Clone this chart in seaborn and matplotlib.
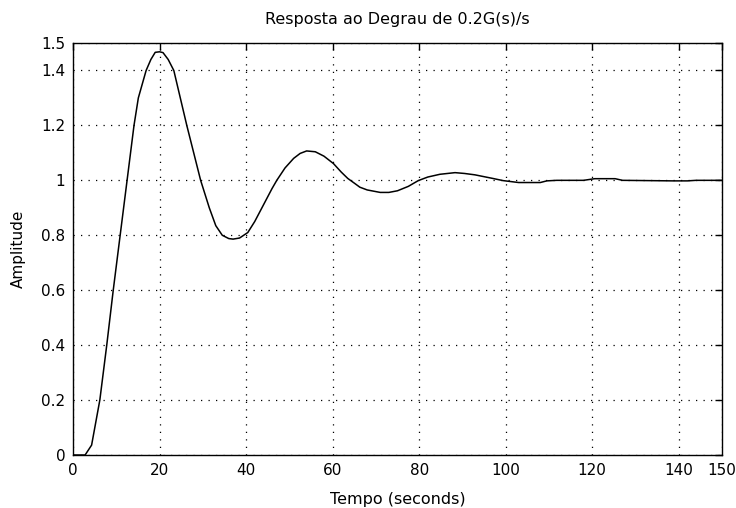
import matplotlib
matplotlib.use("Agg")
import matplotlib.pyplot as plt
import seaborn as sns
import pandas as pd

time_s = [0, 2.8, 4.3, 6.2, 7.8, 9.3, 10.9, 12.5, 14.1, 15.1, 16.9, 18, 19, 20, 20.8,
          22, 23.3, 24.8, 26.3, 27.9, 29.5, 31.5, 33, 34.5, 36, 37, 38.5, 40.4, 42,
          44, 46, 47.1, 49, 51, 52.5, 54, 56, 58, 60.2, 62, 63.5, 65, 66.3, 68, 71,
          73, 75, 77.5, 79.8, 82, 84.8, 88.3, 90.5, 92.9, 97, 99.4, 103, 108, 109.5,
          111.8, 118, 120.6, 125.3, 127, 138.7, 142, 144, 150]
amplitude = [0, 0, 0.036, 0.2, 0.4, 0.6, 0.8, 1.0, 1.2, 1.3, 1.4, 1.44, 1.466, 1.468,
             1.465, 1.44, 1.4, 1.3, 1.2, 1.1, 1.0, 0.9, 0.835, 0.80, 0.788, 0.786,
             0.79, 0.81, 0.85, 0.91, 0.97, 1.0, 1.045, 1.08, 1.098, 1.107, 1.104,
             1.088, 1.061, 1.03, 1.007, 0.99, 0.975, 0.965, 0.956, 0.956, 0.962,
             0.978, 0.999, 1.012, 1.022, 1.028, 1.025, 1.02, 1.007, 0.999, 0.992,
             0.992, 0.998, 1.0, 1.0, 1.006, 1.006, 1.0, 0.998, 0.998, 1.0, 1.0]
x_ticks = [0, 20, 40, 60, 80, 100, 120, 140, 150]
y_ticks = [0, 0.2, 0.4, 0.6, 0.8, 1, 1.2, 1.4, 1.5]
y_tick_labels = ["0", "0.2", "0.4", "0.6", "0.8", "1", "1.2", "1.4", "1.5"]
x_tick_labels = ["0", "20", "40", "60", "80", "100", "120", "140", "150"]

sns.set_style("white")
plt.rcParams["font.family"] = ["DejaVu Sans"]
plt.rcParams["text.color"] = "black"
plt.rcParams["axes.labelcolor"] = "black"

df = pd.DataFrame({"t": time_s, "y": amplitude})

fig = plt.figure(figsize=(7.36, 5.08), dpi=100)
ax = fig.add_axes([73 / 736, 1 - 455 / 508, (722 - 73) / 736, (455 - 43) / 508])
sns.lineplot(data=df, x="t", y="y", ax=ax, color="black", linewidth=1.1)

ax.set_xlim(0, 150)
ax.set_ylim(0, 1.5)
ax.set_xticks(x_ticks)
ax.set_xticklabels(x_tick_labels)
ax.set_yticks(y_ticks)
ax.set_yticklabels(y_tick_labels)
ax.grid(True, linestyle=(0, (1, 5)), color="black", linewidth=0.9)
ax.tick_params(direction="in", length=5, width=1, colors="black", labelsize=11,
               top=True, right=True, pad=5.5)
for s in ax.spines.values():
    s.set_color("black")
    s.set_linewidth(1.0)
ax.set_title("Resposta ao Degrau de 0.2G(s)/s", fontsize=11.5, pad=14, color="black")
ax.set_xlabel("Tempo (seconds)", fontsize=11.5, labelpad=10)
ax.set_ylabel("Amplitude", fontsize=11, labelpad=11)

fig.savefig("out.png", dpi=100, facecolor="white")
